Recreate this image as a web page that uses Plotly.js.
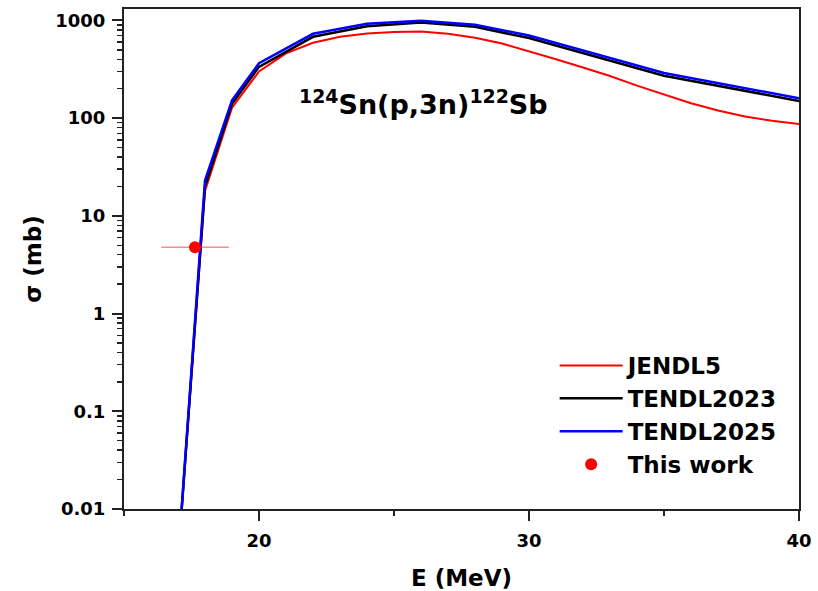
<!DOCTYPE html>
<html>
<head>
<meta charset="utf-8">
<script src="https://cdn.plot.ly/plotly-3.0.1.min.js"></script>
<style>html,body{margin:0;padding:0;background:#fff;}#chart{width:818px;height:591px;}</style>
</head>
<body>
<div id="chart"></div>
<script>
// Energies (MeV) and cross sections (mb)
const energyRed = [17, 18, 19, 20, 21, 22, 23, 24, 25, 26, 27, 28, 29, 30, 31, 32, 33, 34, 35, 36, 37, 38, 39, 40];
const jendl5 = [0.003, 18, 128, 300, 460, 590, 680, 735, 760, 770, 730, 665, 580, 485, 400, 330, 270, 215, 175, 142, 120, 104, 94, 87];

const energyTendl = [17, 18, 19, 20, 22, 24, 26, 28, 30, 35, 40];
const tendl2023 = [0.003, 20, 140, 335, 680, 870, 950, 860, 660, 272, 150];
const tendl2025 = [0.003, 23, 152, 365, 730, 925, 990, 905, 700, 290, 160];

const expE = [17.63];
const expErrE = [1.25];
const expSigma = [4.77];

const yTickVals = [0.01, 0.1, 1, 10, 100, 1000];
const yTickText = ["0.01", "0.1", "1", "10", "100", "1000"];
const yMinorVals = [0.02,0.03,0.04,0.05,0.06,0.07,0.08,0.09,
                    0.2,0.3,0.4,0.5,0.6,0.7,0.8,0.9,
                    2,3,4,5,6,7,8,9,
                    20,30,40,50,60,70,80,90,
                    200,300,400,500,600,700,800,900];
const xTickVals = [20, 30, 40];
const xMinorVals = [15, 25, 35];

const FONT = "DejaVu Sans, Liberation Sans, Arial, sans-serif";

const traces = [
  {x: energyRed, y: jendl5, mode: 'lines', name: 'JENDL5',
   line: {color: '#ff0000', width: 2}},
  {x: energyTendl, y: tendl2023, mode: 'lines', name: 'TENDL2023',
   line: {color: '#000000', width: 2.5}},
  {x: energyTendl, y: tendl2025, mode: 'lines', name: 'TENDL2025',
   line: {color: '#0000ff', width: 2.5}},
  {x: expE, y: expSigma, mode: 'markers', name: 'This work',
   marker: {color: '#ff0000', size: 12},
   error_x: {type: 'data', array: expErrE, visible: true, color: 'rgba(255,60,60,0.6)', thickness: 1.5, width: 0}}
];

const layout = {
  width: 818, height: 591,
  margin: {l: 124, r: 19, t: 9, b: 82, pad: 0},
  paper_bgcolor: '#fff', plot_bgcolor: '#fff',
  showlegend: true,
  font: {family: FONT, color: '#000'},
  xaxis: {
    range: [15, 40], showgrid: false, zeroline: false,
    showline: true, linecolor: '#222', linewidth: 2, mirror: true,
    ticks: 'outside', ticklen: 10, tickwidth: 2, tickcolor: '#222',
    tickmode: 'array', tickvals: xTickVals, ticklabelstandoff: 4,
    tickfont: {family: FONT, size: 18, weight: 'bold', color: '#000'},
    minor: {tickmode: 'array', tickvals: xMinorVals, ticks: 'outside', ticklen: 5, tickwidth: 2, tickcolor: '#222'},
    title: {text: '<b>E (MeV)</b>', font: {family: FONT, size: 23, color: '#000'}, standoff: 22}
  },
  yaxis: {
    type: 'log', range: [-2, 3.117], showgrid: false, zeroline: false,
    showline: true, linecolor: '#222', linewidth: 2, mirror: true,
    ticks: 'outside', ticklen: 10, tickwidth: 2, tickcolor: '#222',
    tickmode: 'array', tickvals: yTickVals, ticktext: yTickText, ticklabelstandoff: 3,
    tickfont: {family: FONT, size: 18, weight: 'bold', color: '#000'},
    minor: {tickmode: 'array', tickvals: yMinorVals, ticks: 'outside', ticklen: 5, tickwidth: 1.5, tickcolor: '#222'},
    title: {text: '<b>σ (mb)</b>', font: {family: FONT, size: 23, color: '#000'}, standoff: 7}
  },
  legend: {
    x: 0.638, y: 0.33, xanchor: 'left', yanchor: 'top',
    bgcolor: 'rgba(0,0,0,0)', borderwidth: 0,
    itemwidth: 63,
    font: {family: FONT, size: 23, weight: 'bold', color: '#000'}
  },
  annotations: [{
    xref: 'paper', yref: 'paper', x: 0.444, y: 0.812,
    xanchor: 'center', yanchor: 'middle', showarrow: false,
    text: '<b><sup>124</sup>Sn(p,3n)<sup>122</sup>Sb</b>',
    font: {family: FONT, size: 27, color: '#000'}
  }]
};

Plotly.newPlot('chart', traces, layout, {staticPlot: true, displayModeBar: false});
</script>
</body>
</html>
